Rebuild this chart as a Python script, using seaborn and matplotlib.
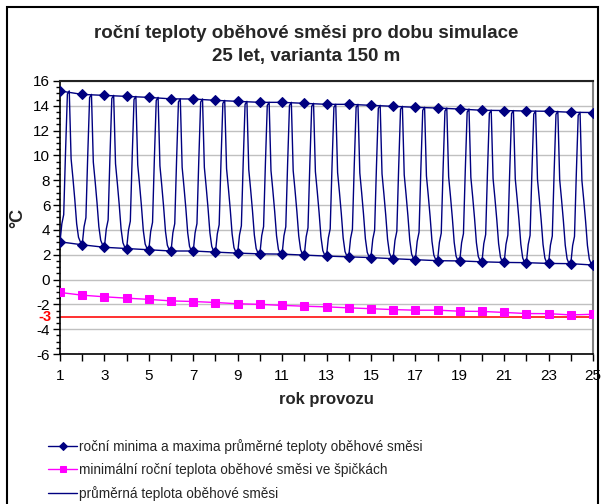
import numpy as np
import pandas as pd
import matplotlib
matplotlib.use("Agg")
import matplotlib.pyplot as plt
from matplotlib.patches import Rectangle
from matplotlib.ticker import MultipleLocator
import seaborn as sns

# --- data ---
years = list(range(1, 26))
annual_max = [15.2, 14.92, 14.84, 14.76, 14.68, 14.56, 14.55, 14.44, 14.36, 14.28,
              14.28, 14.2, 14.12, 14.12, 14.04, 13.96, 13.88, 13.82, 13.74, 13.64,
              13.62, 13.58, 13.56, 13.48, 13.46]
annual_min = [3.04, 2.8, 2.6, 2.5, 2.4, 2.3, 2.3, 2.21, 2.13, 2.07,
              2.05, 1.97, 1.89, 1.83, 1.77, 1.68, 1.6, 1.52, 1.5, 1.43,
              1.38, 1.36, 1.3, 1.28, 1.17]
peak_min = [-1.04, -1.26, -1.39, -1.5, -1.6, -1.72, -1.77, -1.85, -1.95, -2.0,
            -2.08, -2.15, -2.2, -2.28, -2.35, -2.42, -2.47, -2.47, -2.55, -2.57,
            -2.65, -2.74, -2.75, -2.85, -2.8]
# shape of one year of the monthly mean (0 = annual min, 1 = annual max)
month_shape = [0.0, 0.12, 0.18, 0.6, 0.98, 1.0, 0.55, 0.42, 0.28, 0.12, 0.03, 0.0]
limit_value = -3

# monthly series built from the annual extremes and the yearly shape
month_x, month_y = [], []
for i, yr in enumerate(years[:-1]):
    for m, f in enumerate(month_shape):
        month_x.append(yr + m / 12)
        month_y.append(annual_min[i] + f * (annual_max[i] - annual_min[i]))
month_x.append(years[-1])
month_y.append(annual_min[-1])
df_month = pd.DataFrame({"x": month_x, "y": month_y})
df_year = pd.DataFrame({"x": years, "max": annual_max, "min": annual_min, "peak": peak_min})

sns.set_style("ticks")
plt.rcParams["font.family"] = ["Liberation Sans", "DejaVu Sans"]
plt.rcParams["axes.unicode_minus"] = False

navy = "#000080"
magenta = "#ff00ff"

fig = plt.figure(figsize=(6.02, 5.04), dpi=100)
ax = fig.add_axes([60 / 602, 1 - 354 / 504, 533 / 602, 273 / 504])

ax.axhline(limit_value, color="#ff2020", linewidth=1.3, zorder=2)
sns.lineplot(data=df_month, x="x", y="y", ax=ax, color=navy, linewidth=1.0,
             label="průměrná teplota oběhové směsi", legend=False, zorder=3)
sns.lineplot(data=df_year, x="x", y="max", ax=ax, color=navy, linewidth=1.0,
             marker="D", markersize=5, markeredgecolor=navy,
             label="roční minima a maxima průměrné teploty oběhové směsi",
             legend=False, zorder=4)
sns.lineplot(data=df_year, x="x", y="min", ax=ax, color=navy, linewidth=1.0,
             marker="D", markersize=5, markeredgecolor=navy, legend=False, zorder=4)
sns.lineplot(data=df_year, x="x", y="peak", ax=ax, color=magenta, linewidth=1.0,
             marker="s", markersize=6, markeredgecolor=magenta,
             label="minimální roční teplota oběhové směsi ve špičkách",
             legend=False, zorder=5)

# axes
ax.set_xlim(1, 25)
ax.set_ylim(-6, 16)
ax.set_yticks(range(-6, 17, 2))
ax.yaxis.set_minor_locator(MultipleLocator(0.5))
ax.set_xticks(years)
ax.set_xticklabels([str(y) if y % 2 == 1 else "" for y in years])
ax.tick_params(axis="both", which="major", direction="out", length=5, width=1,
               color="black", labelsize=11, labelcolor="black")
ax.tick_params(axis="y", which="minor", direction="out", length=3, width=1, color="black")
ax.tick_params(axis="x", pad=6)
ax.tick_params(axis="y", pad=2)
ax.grid(axis="y", color="#c0c0c0", linewidth=1)
ax.set_axisbelow(True)
for s in ["left", "bottom"]:
    ax.spines[s].set_color("black")
    ax.spines[s].set_linewidth(1.2)
ax.spines["top"].set_color("#222222")
ax.spines["top"].set_linewidth(1.5)
ax.spines["right"].set_color("#808080")
ax.spines["right"].set_linewidth(1.5)

ax.set_xlabel("rok provozu", fontsize=12, fontweight="bold", labelpad=6)
ax.set_ylabel("°C", fontsize=13, fontweight="bold", labelpad=5)

# red "-3" label next to the limit line
ax.text(-0.016, limit_value, "-3", transform=ax.get_yaxis_transform(),
        ha="right", va="center", color="red", fontsize=10.5, fontweight="bold")

# title
fig.text(306 / 602, 1 - 33 / 504, "roční teploty oběhové směsi pro dobu simulace",
         ha="center", va="center", fontsize=13.5, fontweight="bold")
fig.text(306 / 602, 1 - 57 / 504, "25 let, varianta 150 m",
         ha="center", va="center", fontsize=13.5, fontweight="bold")

# legend below the chart
lines = ax.get_lines()
handles = [lines[2], lines[4], lines[1]]
labels = [h.get_label() for h in handles]
fig.legend(handles, labels, loc="upper left", bbox_to_anchor=(48 / 602, 1 - 439 / 504),
           frameon=False, fontsize=9.8, handlelength=2.15, handletextpad=0.15,
           labelspacing=0.66, borderaxespad=0, borderpad=0, markerscale=0.8)

# outer chart border
fig.patches.append(Rectangle((7 / 602, -0.02), 591 / 602, 1.02 - 7 / 504,
                             transform=fig.transFigure, fill=False,
                             edgecolor="black", linewidth=1.5))

fig.savefig("out.png", dpi=100)
